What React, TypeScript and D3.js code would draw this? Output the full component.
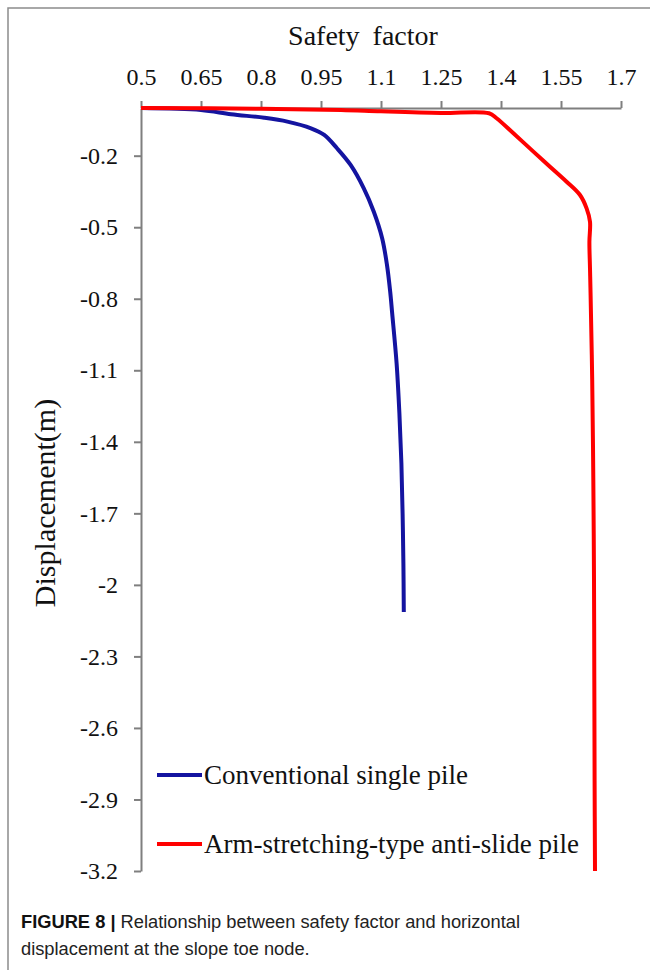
import * as d3 from "d3";
import { useEffect, useRef } from "react";

// safety factor (x) vs displacement in m (y)
const conventionalSF = [0.5, 0.65, 0.725, 0.808, 0.866, 0.925, 0.958, 0.99, 1.024, 1.057, 1.082, 1.103, 1.115, 1.123, 1.128, 1.139, 1.146, 1.151, 1.154, 1.156, 1.157];
const conventionalDisp = [0, -0.008, -0.026, -0.041, -0.057, -0.085, -0.113, -0.169, -0.239, -0.337, -0.435, -0.547, -0.659, -0.771, -0.862, -1.071, -1.281, -1.491, -1.701, -1.911, -2.114];

const armSF = [0.5, 0.8, 1.0, 1.1, 1.25, 1.37, 1.389, 1.431, 1.481, 1.5225, 1.564, 1.5975, 1.614, 1.6225, 1.621, 1.6225, 1.624, 1.628, 1.6308, 1.6325, 1.6333, 1.634, 1.635];
const armDisp = [0, -0.003, -0.008, -0.014, -0.021, -0.022, -0.043, -0.106, -0.183, -0.246, -0.309, -0.365, -0.421, -0.477, -0.561, -0.673, -0.785, -1.14, -1.56, -1.98, -2.4, -2.82, -3.2];

const xTicks = [0.5, 0.65, 0.8, 0.95, 1.1, 1.25, 1.4, 1.55, 1.7];
const yTicks = [-0.2, -0.5, -0.8, -1.1, -1.4, -1.7, -2, -2.3, -2.6, -2.9, -3.2];

const seriesNames = ["Conventional single pile", "Arm-stretching-type anti-slide pile"];
const seriesColors = ["#1414a0", "#ff0000"];

const App = () => {
    const ref = useRef<SVGSVGElement | null>(null);

    useEffect(() => {
        const svg = d3.select(ref.current);
        svg.selectAll("*").remove();

        const left = 141, right = 621, top = 108, bottom = 871;
        const axisColor = "#7f7f7f";
        const serif = "'Liberation Serif', 'Times New Roman', serif";

        // outer frame of the figure
        svg.append("rect")
            .attr("x", 8).attr("y", 8)
            .attr("width", 700).attr("height", 1000)
            .attr("fill", "none")
            .attr("stroke", "#8c8c8c")
            .attr("stroke-width", 1.5);

        const x = d3.scaleLinear().domain([0.5, 1.7]).range([left, right]);
        const y = d3.scaleLinear().domain([0, -3.2]).range([top, bottom]);

        const g = svg.append("g");

        // top axis
        const xAxis = g.append("g")
            .attr("transform", `translate(0,${top})`)
            .call(d3.axisTop(x).tickValues(xTicks).tickSize(7).tickSizeOuter(0).tickFormat(d => String(d)));
        xAxis.select(".domain").attr("stroke", axisColor).attr("stroke-width", 2);
        xAxis.selectAll(".tick line").attr("stroke", axisColor).attr("stroke-width", 2);
        xAxis.selectAll(".tick text")
            .attr("fill", "#111")
            .attr("font-family", serif)
            .attr("font-size", 24)
            .attr("y", -23);

        // left axis
        const yAxis = g.append("g")
            .attr("transform", `translate(${left},0)`)
            .call(d3.axisLeft(y).tickValues(yTicks).tickSize(7).tickSizeOuter(0).tickFormat(d => String(d)));
        yAxis.select(".domain").attr("stroke", axisColor).attr("stroke-width", 2);
        yAxis.selectAll(".tick line").attr("stroke", axisColor).attr("stroke-width", 2);
        yAxis.selectAll(".tick text")
            .attr("fill", "#111")
            .attr("font-family", serif)
            .attr("font-size", 24)
            .attr("x", -23);

        // axis titles
        g.append("text")
            .attr("x", 363).attr("y", 45)
            .attr("text-anchor", "middle")
            .attr("font-family", serif)
            .attr("font-size", 28)
            .attr("word-spacing", 6)
            .attr("fill", "#111")
            .text("Safety factor");

        g.append("text")
            .attr("transform", "translate(55,503) rotate(-90)")
            .attr("text-anchor", "middle")
            .attr("font-family", serif)
            .attr("font-size", 30)
            .attr("fill", "#111")
            .text("Displacement(m)");

        const line = d3.line<[number, number]>()
            .x(d => x(d[0]))
            .y(d => y(d[1]))
            .curve(d3.curveCatmullRom.alpha(0.5));

        const series: [number, number][][] = [
            conventionalSF.map((v, i) => [v, conventionalDisp[i]] as [number, number]),
            armSF.map((v, i) => [v, armDisp[i]] as [number, number]),
        ];

        series.forEach((pts, i) => {
            g.append("path")
                .attr("d", line(pts) as string)
                .attr("fill", "none")
                .attr("stroke", seriesColors[i])
                .attr("stroke-width", 4)
                .attr("stroke-linejoin", "round");
        });

        // legend
        const legendY = [775, 844];
        seriesNames.forEach((name, i) => {
            g.append("line")
                .attr("x1", 157).attr("x2", 202)
                .attr("y1", legendY[i]).attr("y2", legendY[i])
                .attr("stroke", seriesColors[i])
                .attr("stroke-width", 4);
            g.append("text")
                .attr("x", 204).attr("y", legendY[i] + 9)
                .attr("font-family", serif)
                .attr("font-size", 27)
                .attr("fill", "#111")
                .text(name);
        });

        // caption
        const sans = "'Liberation Sans', Arial, sans-serif";
        const cap = svg.append("text")
            .attr("x", 21).attr("y", 928)
            .attr("font-family", sans)
            .attr("font-size", 18.3)
            .attr("fill", "#222");
        cap.append("tspan").attr("font-weight", "bold").attr("fill", "#111").text("FIGURE 8 | ");
        cap.append("tspan").text("Relationship between safety factor and horizontal");
        svg.append("text")
            .attr("x", 21).attr("y", 955)
            .attr("font-family", sans)
            .attr("font-size", 18.3)
            .attr("fill", "#222")
            .text("displacement at the slope toe node.");
    }, []);

    return (
        <svg
            ref={ref}
            width={650}
            height={970}
            style={{ position: "absolute", left: 0, top: 0, background: "#fff" }}
        />
    );
};

export default App;
